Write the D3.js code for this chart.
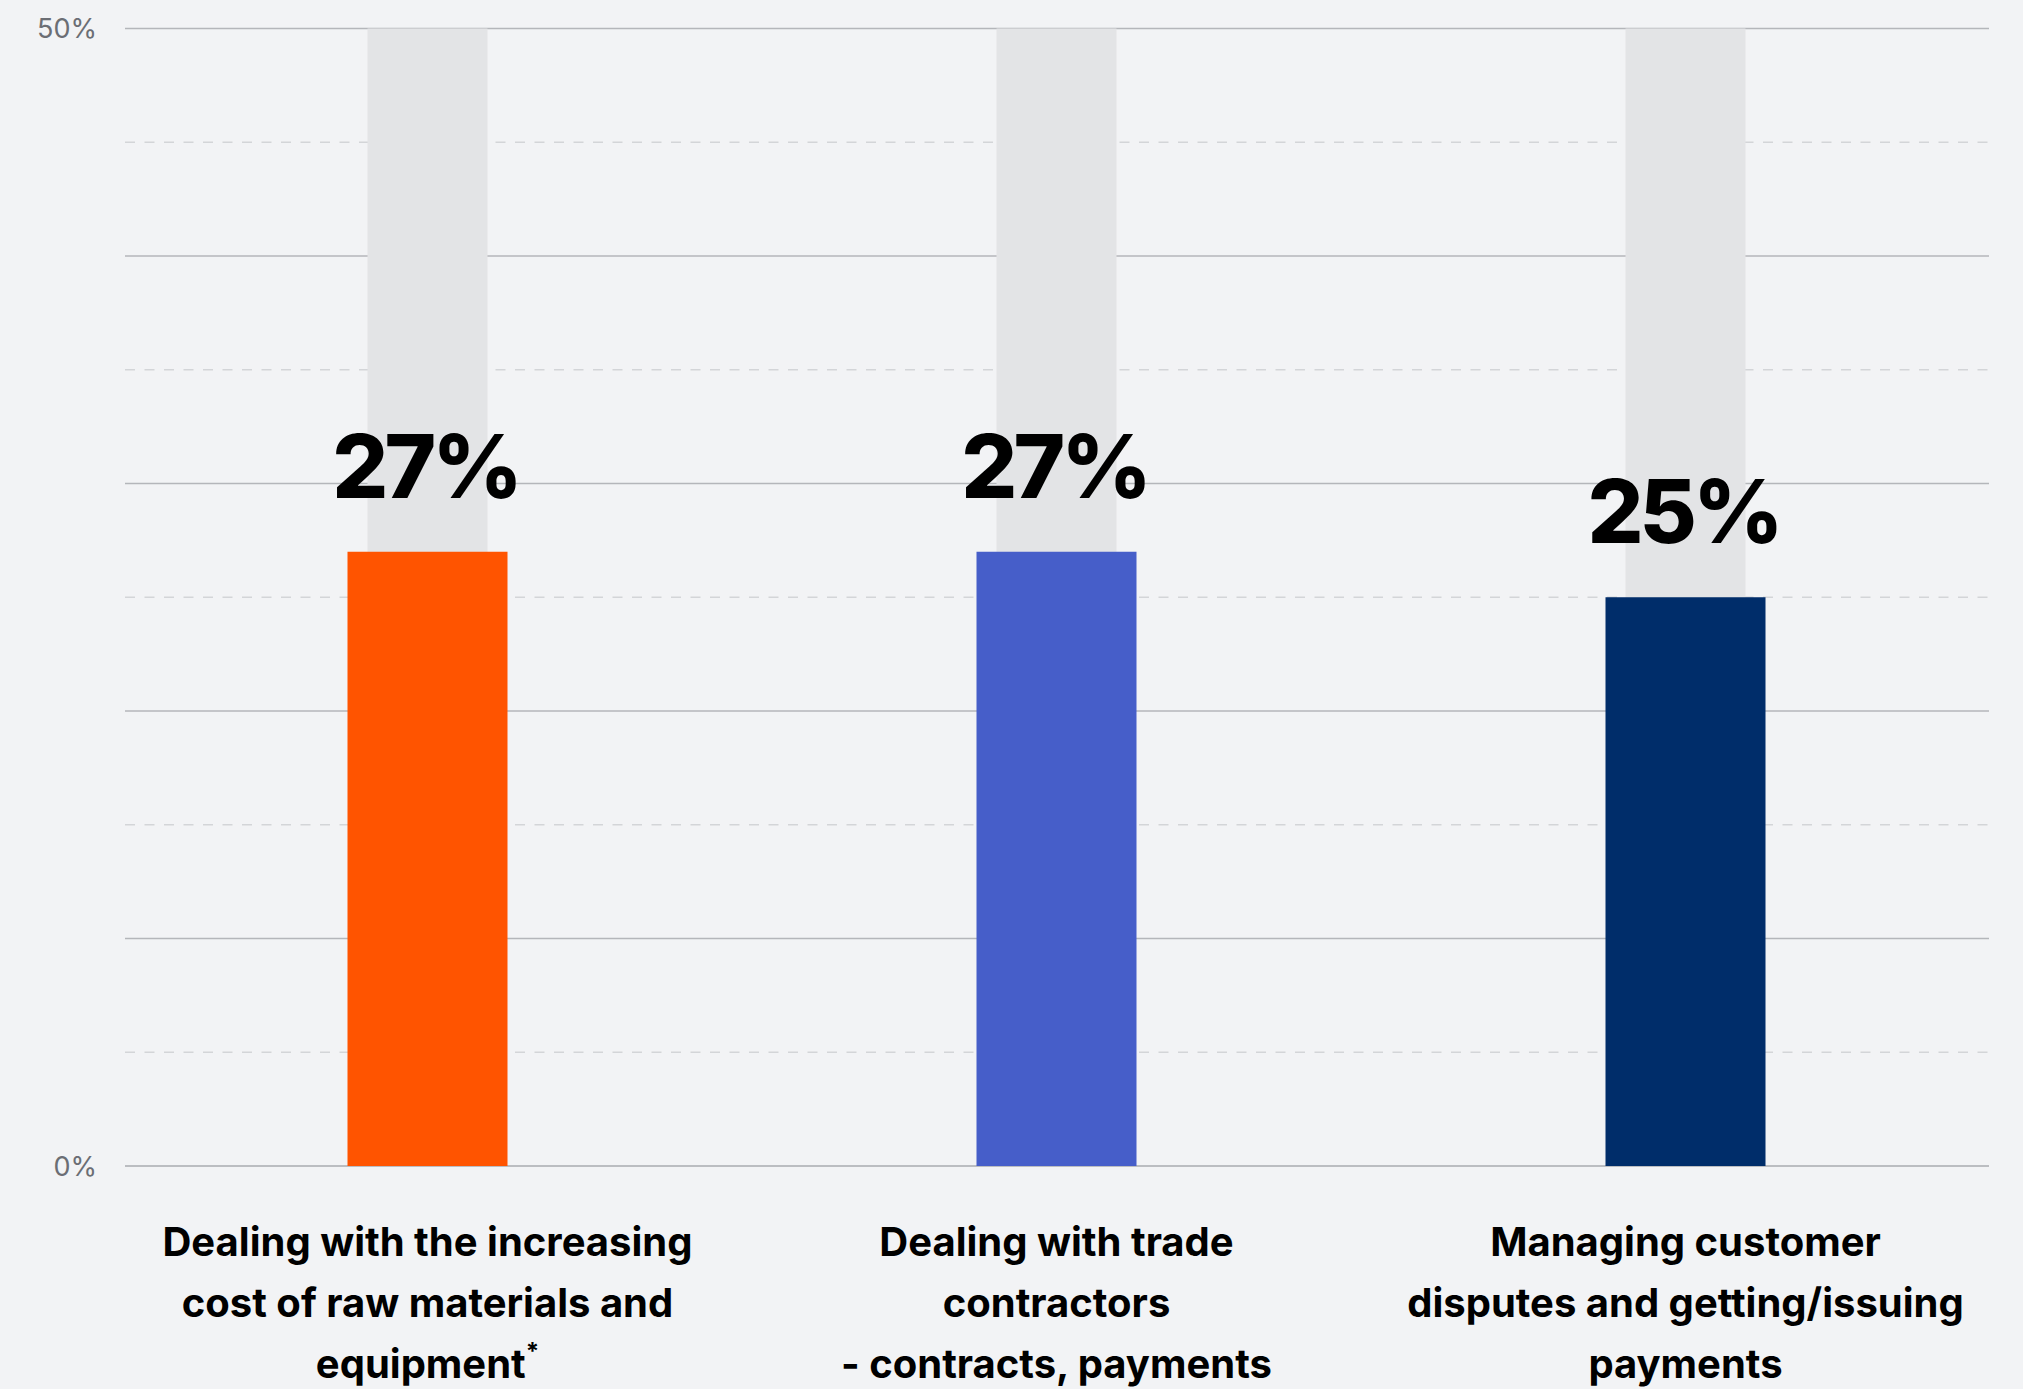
<!DOCTYPE html>
<html>
<head>
<meta charset="utf-8">
<script src="https://cdn.jsdelivr.net/npm/d3@7/dist/d3.min.js"></script>
<style>
  html, body { margin: 0; padding: 0; background: #f2f3f5; }
  svg { display: block; }
</style>
</head>
<body>
<svg id="chart" width="2023" height="1389"></svg>
<script>
// Share of respondents naming each challenge
const categories = [
  "Dealing with the increasing cost of raw materials and equipment*",
  "Dealing with trade contractors - contracts, payments",
  "Managing customer disputes and getting/issuing payments"
];
const categoryLines = [
  ["Dealing with the increasing", "cost of raw materials and", "equipment*"],
  ["Dealing with trade", "contractors", "- contracts, payments"],
  ["Managing customer", "disputes and getting/issuing", "payments"]
];
const values = [27, 27, 25];
const colors = ["#ff5400", "#465ec9", "#002d6a"];
const yTicks = [0, 50];
const solidGrid = [10, 20, 30, 40, 50];
const dashedGrid = [5, 15, 25, 35, 45];

const svg = d3.select("#chart");

const x = d3.scaleBand().domain(categories).range([113, 2000]).padding(0);
const y = d3.scaleLinear().domain([0, 50]).range([1166, 28.5]);
const cx = d => x(d) + x.bandwidth() / 2;

const gridLeft = 125, gridRight = 1989;

// dashed half-step gridlines
svg.append("g").selectAll("line").data(dashedGrid).join("line")
  .attr("x1", gridLeft).attr("x2", gridRight)
  .attr("y1", d => y(d)).attr("y2", d => y(d))
  .attr("stroke", "#d3d5d8").attr("stroke-width", 1.3)
  .attr("stroke-dasharray", "10,9.5");

// solid gridlines
svg.append("g").selectAll("line").data(solidGrid).join("line")
  .attr("x1", gridLeft).attr("x2", gridRight)
  .attr("y1", d => y(d)).attr("y2", d => y(d))
  .attr("stroke", "#b4b6ba").attr("stroke-width", 1.3);

// background tracks up to the domain maximum
const trackW = 120, barW = 160;
svg.append("g").selectAll("rect").data(categories).join("rect")
  .attr("x", d => cx(d) - trackW / 2)
  .attr("width", trackW)
  .attr("y", y(50))
  .attr("height", y(0) - y(50))
  .attr("fill", "#e3e4e6");

// baseline
svg.append("line")
  .attr("x1", gridLeft).attr("x2", gridRight)
  .attr("y1", y(0)).attr("y2", y(0))
  .attr("stroke", "#a9abaf").attr("stroke-width", 1.5);

// value bars
svg.append("g").selectAll("rect").data(values).join("rect")
  .attr("x", (d, i) => cx(categories[i]) - barW / 2)
  .attr("width", barW)
  .attr("y", d => y(d))
  .attr("height", d => y(0) - y(d))
  .attr("fill", (d, i) => colors[i]);

// value labels
svg.append("g").selectAll("text").data(values).join("text")
  .attr("x", (d, i) => cx(categories[i]) - 2)
  .attr("y", d => y(d) - 54)
  .attr("text-anchor", "middle")
  .attr("font-family", "Inter, 'Noto Sans', sans-serif")
  .attr("font-weight", 800)
  .attr("font-size", 88)
  .attr("letter-spacing", -4)
  .attr("fill", "#000")
  .text(d => d + "%");

// y-axis tick labels
svg.append("g").selectAll("text").data(yTicks).join("text")
  .attr("x", 97)
  .attr("y", d => y(d))
  .attr("dy", "0.36em")
  .attr("text-anchor", "end")
  .attr("font-family", "Inter, 'Noto Sans', sans-serif")
  .attr("font-size", 27)
  .attr("fill", "#6b6e74")
  .text(d => d + "%");

// category labels
const catG = svg.append("g").selectAll("text").data(categories).join("text")
  .attr("text-anchor", "middle")
  .attr("font-family", "Inter, 'Noto Sans', sans-serif")
  .attr("font-weight", 700)
  .attr("font-size", 40)
  .attr("fill", "#000");
catG.each(function(d, i) {
  const t = d3.select(this);
  categoryLines[i].forEach((line, j) => {
    const ts = t.append("tspan").attr("x", cx(d)).attr("y", 1256 + j * 61);
    if (line.endsWith("*")) {
      ts.text(line.slice(0, -1));
      t.append("tspan").attr("font-size", 24).attr("dy", "-0.75em").text("*");
    } else {
      ts.text(line);
    }
  });
});
</script>
</body>
</html>
